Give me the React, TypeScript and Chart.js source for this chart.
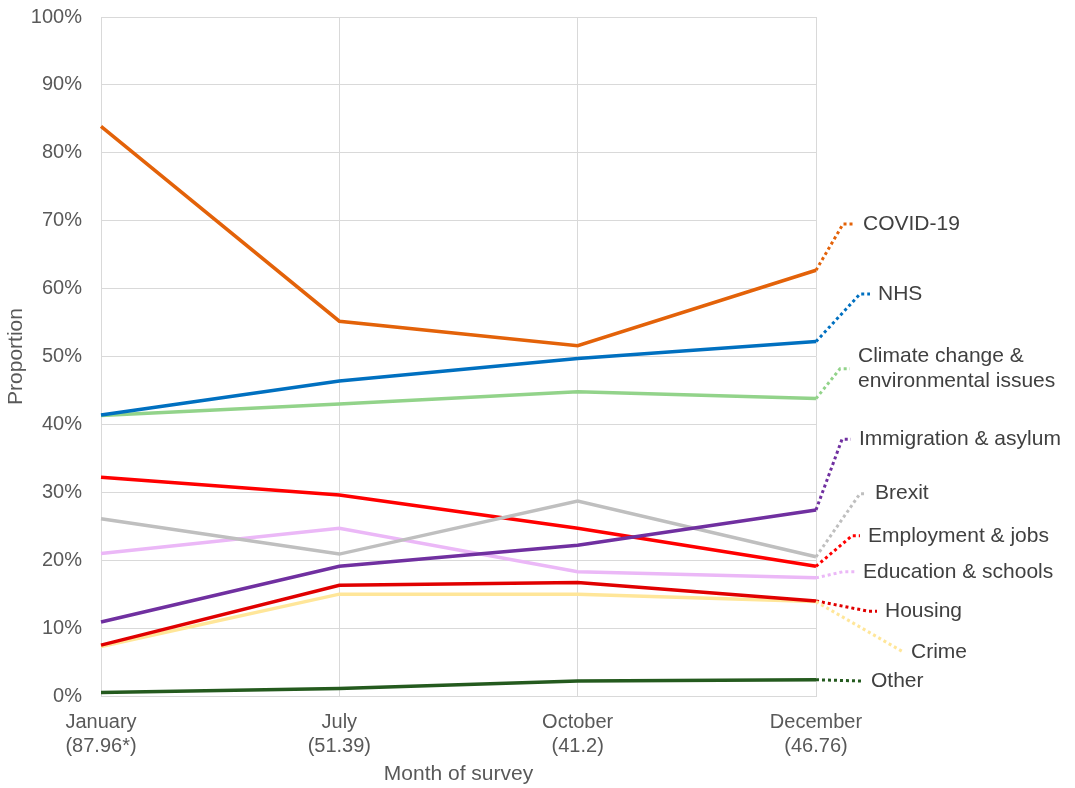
import React, { useEffect, useRef } from "react";
import { Chart, registerables } from "chart.js";

Chart.register(...registerables);

// ---- Data ----
const months = ["January", "July", "October", "December"];
const sampleSizes = ["(87.96*)", "(51.39)", "(41.2)", "(46.76)"];

const seriesNames = [
  "COVID-19",
  "NHS",
  "Climate change &\nenvironmental issues",
  "Immigration & asylum",
  "Brexit",
  "Employment & jobs",
  "Education & schools",
  "Housing",
  "Crime",
  "Other",
];

const covid = [83.9, 55.2, 51.6, 62.7];
const nhs = [41.4, 46.4, 49.7, 52.2];
const climate = [41.3, 43.0, 44.8, 43.8];
const immigration = [10.9, 19.1, 22.2, 27.4];
const brexit = [26.1, 20.9, 28.7, 20.5];
const employment = [32.2, 29.6, 24.7, 19.1];
const education = [21.0, 24.7, 18.3, 17.4];
const housing = [7.5, 16.3, 16.7, 14.0];
const crime = [7.3, 15.0, 15.0, 13.9];
const other = [0.5, 1.1, 2.2, 2.4];

const seriesValues = [covid, nhs, climate, immigration, brexit, employment, education, housing, crime, other];

// ---- Styles ----
const seriesColors = [
  "#E36209",
  "#0070C0",
  "#92D38A",
  "#7030A0",
  "#BFBFBF",
  "#FF0000",
  "#EBB8F7",
  "#E00000",
  "#FFE699",
  "#245A1E",
];

// label anchor: y in axis units, dx = end of leader from last point (px), h = horizontal part length (px)
const labelAnchors = [
  { y: 69.5, dx: 39, h: 12 },
  { y: 59.2, dx: 54, h: 10 },
  { y: 48.2, dx: 34, h: 10 },
  { y: 37.8, dx: 35, h: 9 },
  { y: 29.8, dx: 51, h: 7 },
  { y: 23.6, dx: 44, h: 8 },
  { y: 18.3, dx: 39, h: 12 },
  { y: 12.5, dx: 61, h: 9 },
  { y: 6.5, dx: 87, h: 0 },
  { y: 2.2, dx: 47, h: 0 },
];

const FONT = "'Liberation Sans', Arial, sans-serif";

const leaderPlugin = {
  id: "leaders",
  afterDatasetsDraw(chart: any) {
    const ctx = chart.ctx;
    const ys = chart.scales.y;
    chart.data.datasets.forEach((ds: any, i: number) => {
      const meta = chart.getDatasetMeta(i);
      const pt = meta.data[meta.data.length - 1];
      const a = labelAnchors[i];
      const ly = ys.getPixelForValue(a.y);
      const ex = pt.x + a.dx;
      const bx = ex - a.h;
      ctx.save();
      ctx.strokeStyle = ds.borderColor;
      ctx.lineWidth = 3;
      ctx.setLineDash([3, 3]);
      ctx.beginPath();
      ctx.moveTo(pt.x, pt.y);
      ctx.lineTo(bx, ly);
      if (a.h > 0) ctx.lineTo(ex, ly);
      ctx.stroke();
      ctx.setLineDash([]);
      ctx.fillStyle = "#404040";
      ctx.font = `21px ${FONT}`;
      ctx.textBaseline = "middle";
      ctx.textAlign = "left";
      const lines = seriesNames[i].split("\n");
      lines.forEach((l, k) => {
        ctx.fillText(l, ex + 8, ly + (k - (lines.length - 1) / 2) * 25);
      });
      ctx.restore();
    });
  },
};

export default function App() {
  const ref = useRef<HTMLCanvasElement>(null);

  useEffect(() => {
    if (!ref.current) return;
    const chart = new Chart(ref.current, {
      type: "line",
      data: {
        labels: months.map((m, i) => [m, sampleSizes[i]]),
        datasets: seriesValues.map((vals, i) => ({
          label: seriesNames[i],
          data: vals,
          borderColor: seriesColors[i],
          backgroundColor: seriesColors[i],
          borderWidth: 3.5,
          pointRadius: 0,
          tension: 0,
          fill: false,
        })),
      },
      options: {
        animation: false,
        responsive: true,
        maintainAspectRatio: false,
        layout: { padding: { top: 17, right: 259, bottom: 0, left: 0 } },
        plugins: {
          legend: { display: false },
          tooltip: { enabled: false },
        },
        scales: {
          x: {
            type: "category",
            offset: false,
            grid: { color: "#D9D9D9", lineWidth: 1, drawTicks: false },
            border: { color: "#D9D9D9" },
            ticks: {
              color: "#595959",
              padding: 14,
              maxRotation: 0,
              autoSkip: false,
              font: { family: FONT, size: 20, lineHeight: 1.2 },
            },
            title: {
              display: true,
              text: "Month of survey",
              color: "#595959",
              font: { family: FONT, size: 21 },
              padding: { top: 0, bottom: 1 },
            },
            afterFit: (s: any) => {
              s.height = 92;
            },
          },
          y: {
            min: 0,
            max: 100,
            grid: { color: "#D9D9D9", lineWidth: 1, drawTicks: false },
            border: { color: "#D9D9D9" },
            ticks: {
              stepSize: 10,
              color: "#595959",
              padding: 19,
              font: { family: FONT, size: 20 },
              callback: (v: any) => v + "%",
            },
            title: {
              display: true,
              text: "Proportion",
              color: "#595959",
              font: { family: FONT, size: 21 },
              padding: { top: 4, bottom: 0 },
            },
            afterFit: (s: any) => {
              s.width = 101;
              s.paddingTop = 0;
              s.paddingBottom = 0;
            },
          },
        },
      },
      plugins: [leaderPlugin],
    });
    return () => chart.destroy();
  }, []);

  return (
    <div style={{ position: "fixed", left: 0, top: 0, width: 1075, height: 788, background: "#fff" }}>
      <canvas ref={ref} />
    </div>
  );
}
